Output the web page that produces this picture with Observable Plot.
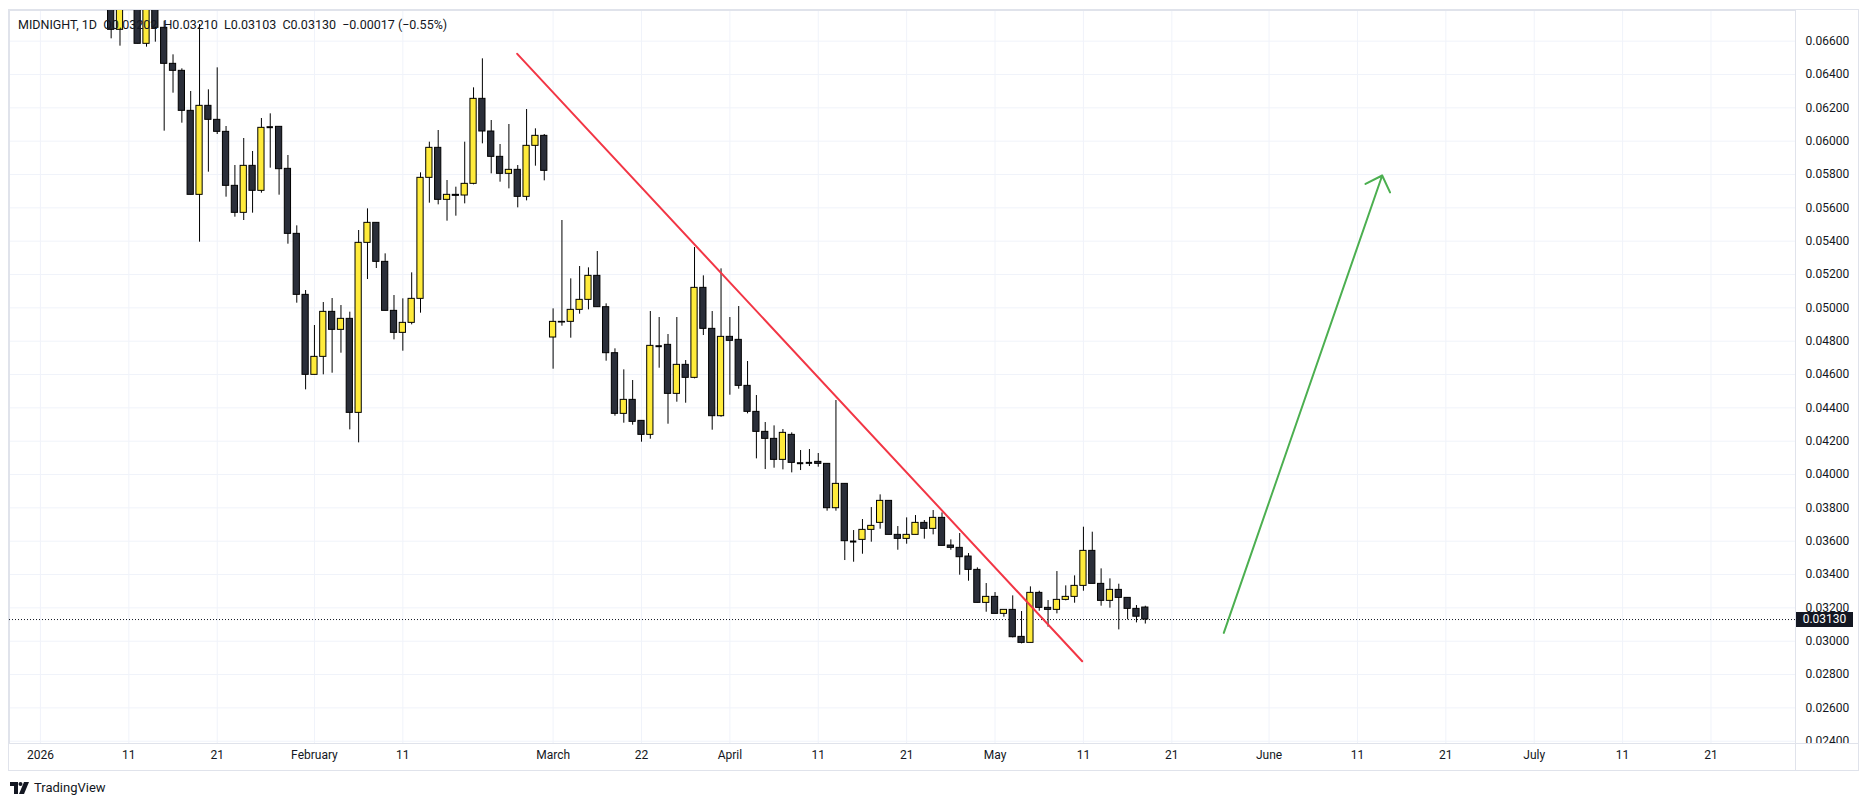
<!DOCTYPE html>
<html>
<head>
<meta charset="utf-8">
<script src="https://cdn.jsdelivr.net/npm/d3@7"></script>
<script src="https://cdn.jsdelivr.net/npm/@observablehq/plot@0.6"></script>
<style>
  html, body { margin: 0; padding: 0; background: #ffffff; }
  #wrap { position: relative; width: 1869px; height: 806px; overflow: hidden;
          font-family: Roboto, "Liberation Sans", sans-serif; color: #131722; }
  #chart { position: absolute; left: 0; top: 0; }
  #outer { position: absolute; left: 8px; top: 9px; width: 1851px; height: 762px;
           border: 1px solid #e0e3eb; box-sizing: border-box; pointer-events: none; }
  #axiscorner { position: absolute; left: 1795px; top: 743px; width: 63px; height: 27px;
           background: #ffffff; border-top: 1px solid #e0e3eb; border-left: 1px solid #e0e3eb; box-sizing: border-box; }
  #legend { position: absolute; left: 18px; top: 17px; font-size: 12.5px; color: #131722; white-space: pre; }
  #price { position: absolute; left: 1796px; width: 57px; height: 15px; line-height: 15px;
           background: #131722; color: #ffffff; font-size: 12px; text-align: center; }
  #logo { position: absolute; left: 10px; top: 780px; display: flex; align-items: center; gap: 4px;
          font-size: 13px; color: #131722; }
</style>
</head>
<body>
<div id="wrap">
  <div id="chart"></div>
  <div id="outer"></div>
  <div id="axiscorner"></div>
  <div id="legend"></div>
  <div id="price"></div>
  <div id="logo">
    <svg width="20" height="12" viewBox="0 0 20 12">
      <path d="M0 0h8v12h-4v-8h-4z" fill="#131722"/>
      <circle cx="10.5" cy="2" r="2" fill="#131722"/>
      <path d="M14 0h5l-5 12h-5z" fill="#131722"/>
    </svg>
    <span>TradingView</span>
  </div>
</div>
<script>
// ---- data ----
const symbol = "MIDNIGHT";
const interval = "1D";
const lastChange = -0.00017;   // as shown in the legend
const lastChangePct = -0.55;   // as shown in the legend
const firstBar = 8; // bar index of the first candle (index 0 = 1 Jan 2026)

const opens = [
  0.0690, 0.06668, 0.0700, 0.0692, 0.06584, 0.0685, 0.0668, 0.06464, 0.06422, 0.06182,
  0.05678, 0.06212, 0.06128, 0.06056, 0.05732, 0.0557, 0.05852, 0.05702, 0.0608, 0.06086,
  0.05834, 0.05444, 0.05078, 0.04598, 0.04706, 0.04976, 0.04868, 0.04934, 0.0437, 0.0539,
  0.0551, 0.05276, 0.04982, 0.0485, 0.0491, 0.05054, 0.0578, 0.0596, 0.05648, 0.05678,
  0.05674, 0.05744, 0.06254, 0.06058, 0.05906, 0.05804, 0.05828, 0.05666, 0.05972, 0.06032,
  0.04822, 0.04916, 0.04916, 0.04988, 0.05048, 0.05192, 0.05004, 0.04728, 0.04364, 0.04448,
  0.04322, 0.04238, 0.04772, 0.04778, 0.04484, 0.04658, 0.0458, 0.0512, 0.04874, 0.0435,
  0.04826, 0.04808, 0.04532, 0.04376, 0.04256, 0.04214, 0.04088, 0.04238, 0.0407, 0.04074,
  0.04076, 0.04064, 0.03798, 0.03944, 0.036, 0.03608, 0.03668, 0.0371, 0.03842, 0.03638,
  0.03614, 0.03638, 0.0371, 0.03674, 0.0374, 0.03574, 0.0356, 0.03508, 0.03428, 0.0323,
  0.03266, 0.03164, 0.03188, 0.03026, 0.0299, 0.0329, 0.032, 0.03188, 0.03248, 0.03266,
  0.03332, 0.03542, 0.03344, 0.03242, 0.03308, 0.0326, 0.03194, 0.03202
];
const highs = [
  0.0700, 0.0695, 0.0715, 0.0700, 0.0690, 0.0690, 0.0672, 0.06518, 0.06434, 0.06298,
  0.0670, 0.06308, 0.0644, 0.06088, 0.05854, 0.06016, 0.05938, 0.06136, 0.06164, 0.06086,
  0.05914, 0.05492, 0.05104, 0.04894, 0.05032, 0.05056, 0.05014, 0.04974, 0.05464, 0.05594,
  0.0551, 0.05324, 0.05074, 0.05054, 0.0521, 0.0581, 0.05994, 0.06064, 0.05764, 0.05724,
  0.05994, 0.0632, 0.06494, 0.06124, 0.0598, 0.061, 0.05854, 0.0619, 0.06074, 0.0604,
  0.04994, 0.05524, 0.05174, 0.05248, 0.0524, 0.05338, 0.05024, 0.04754, 0.04628, 0.04564,
  0.04322, 0.04978, 0.04942, 0.0484, 0.04942, 0.04684, 0.05362, 0.05192, 0.04978, 0.05234,
  0.04942, 0.05008, 0.04678, 0.04474, 0.04312, 0.04292, 0.0427, 0.0425, 0.04144, 0.0415,
  0.04126, 0.04064, 0.04444, 0.03944, 0.03664, 0.0373, 0.03802, 0.03878, 0.03842, 0.03688,
  0.0374, 0.03754, 0.03724, 0.03784, 0.0377, 0.03608, 0.03646, 0.03526, 0.0344, 0.03346,
  0.03292, 0.03188, 0.03272, 0.03178, 0.03326, 0.0330, 0.03244, 0.03418, 0.03332, 0.03392,
  0.03684, 0.03654, 0.03434, 0.03374, 0.03342, 0.0326, 0.03214, 0.03210
];
const lows = [
  0.06614, 0.0657, 0.0692, 0.06584, 0.06564, 0.06594, 0.0606, 0.06288, 0.06108, 0.05678,
  0.05394, 0.05814, 0.0604, 0.05664, 0.05544, 0.05524, 0.05568, 0.05688, 0.05838, 0.05676,
  0.05382, 0.05028, 0.04508, 0.04598, 0.04598, 0.04608, 0.04728, 0.04268, 0.0419, 0.0517,
  0.05236, 0.04982, 0.04808, 0.0474, 0.04898, 0.04968, 0.05628, 0.05618, 0.0552, 0.0555,
  0.05624, 0.05738, 0.05984, 0.05804, 0.05754, 0.05714, 0.056, 0.05642, 0.0585, 0.05762,
  0.04632, 0.0489, 0.04818, 0.04962, 0.04988, 0.05004, 0.0468, 0.0435, 0.04308, 0.04296,
  0.04194, 0.04212, 0.04638, 0.04302, 0.04434, 0.04428, 0.04574, 0.04834, 0.04266, 0.04344,
  0.04476, 0.04512, 0.04364, 0.04094, 0.0403, 0.04038, 0.04028, 0.0401, 0.04024, 0.04048,
  0.04044, 0.0378, 0.0378, 0.03484, 0.03474, 0.03522, 0.03594, 0.03672, 0.03638, 0.03546,
  0.03582, 0.03638, 0.03612, 0.03638, 0.03572, 0.03546, 0.03396, 0.0336, 0.0323, 0.03174,
  0.03164, 0.03144, 0.0302, 0.02984, 0.0299, 0.0318, 0.03084, 0.03164, 0.03242, 0.03228,
  0.0330, 0.03344, 0.0321, 0.03198, 0.03068, 0.03128, 0.0311, 0.03103
];
const closes = [
  0.06668, 0.0688, 0.0708, 0.06584, 0.0685, 0.0668, 0.06464, 0.06422, 0.06182, 0.05678,
  0.06212, 0.06128, 0.06056, 0.05732, 0.0557, 0.05852, 0.05702, 0.0608, 0.06084, 0.05832,
  0.05444, 0.05078, 0.04598, 0.04706, 0.04976, 0.04868, 0.04934, 0.0437, 0.0539, 0.0551,
  0.05276, 0.04982, 0.0485, 0.0491, 0.05054, 0.0578, 0.0596, 0.05648, 0.05678, 0.05672,
  0.05744, 0.06254, 0.06058, 0.05906, 0.05804, 0.05828, 0.05666, 0.05972, 0.06032, 0.05822,
  0.04916, 0.04912, 0.04988, 0.05048, 0.05192, 0.05004, 0.04728, 0.04364, 0.04448, 0.04316,
  0.04238, 0.04772, 0.0477, 0.04484, 0.04658, 0.0458, 0.0512, 0.04874, 0.0435, 0.04826,
  0.04802, 0.04532, 0.04376, 0.04256, 0.04214, 0.04088, 0.0425, 0.0407, 0.04068, 0.0407,
  0.04064, 0.03798, 0.03944, 0.036, 0.03598, 0.03668, 0.03692, 0.03842, 0.03638, 0.03614,
  0.03638, 0.0371, 0.03674, 0.0374, 0.03572, 0.0356, 0.03504, 0.03428, 0.0323, 0.03266,
  0.03164, 0.03188, 0.03024, 0.0299, 0.0329, 0.032, 0.03188, 0.03248, 0.03266, 0.03332,
  0.03542, 0.03344, 0.03242, 0.03308, 0.0326, 0.03194, 0.03147, 0.03130
];

// time axis: bar index and label
const tickBars = [0, 10, 20, 31, 41, 58, 68, 78, 88, 98, 108, 118, 128, 139, 149, 159, 169, 179, 189];
const tickLabels = ["2026", "11", "21", "February", "11", "March", "22", "April", "11", "21", "May",
                    "11", "21", "June", "11", "21", "July", "11", "21"];
// price axis ticks
const priceTicks = [0.024, 0.026, 0.028, 0.030, 0.032, 0.034, 0.036, 0.038, 0.040, 0.042, 0.044,
                    0.046, 0.048, 0.050, 0.052, 0.054, 0.056, 0.058, 0.060, 0.062, 0.064, 0.066];

// drawings
const trendBars = [53.94, 117.86];
const trendPrices = [0.06524, 0.0288];
const arrowBars = [133.88, 151.8];
const arrowPrices = [0.0305, 0.05794];

// ---- build ----
const bars = opens.map((o, k) => ({ i: firstBar + k, open: o, high: highs[k], low: lows[k], close: closes[k] }));
const isDoji = d => Math.abs(d.close - d.open) < 0.00004;
const upBars = bars.filter(d => !isDoji(d) && d.close >= d.open);
const downBars = bars.filter(d => !isDoji(d) && d.close < d.open);
const dojiBars = bars.filter(isDoji);
const last = bars[bars.length - 1];
const trend = trendBars.map((b, k) => ({ i: b, p: trendPrices[k] }));
const arrow = [{ x1: arrowBars[0], y1: arrowPrices[0], x2: arrowBars[1], y2: arrowPrices[1] }];

const YELLOW = "#ffeb3b", DARK = "#2a2e39", GRID = "#f0f3fa";
const fmt = d3.format(".5f");

const bodyOpts = {
  x1: d => d.i - 0.5, x2: d => d.i + 0.5, insetLeft: 1.3, insetRight: 1.3,
  y1: "open", y2: "close", stroke: "#000000", strokeWidth: 1, clip: true
};

const chart = Plot.plot({
  width: 1869,
  height: 772,
  marginLeft: 9,
  marginRight: 74,
  marginTop: 10,
  marginBottom: 29,
  x: { type: "linear", domain: [-3.5, 198.56], label: null },
  y: { domain: [0.023863, 0.06784], label: null },
  style: { fontFamily: "Roboto, 'Liberation Sans', sans-serif", fontSize: "12px", color: "#131722", background: "transparent", overflow: "visible" },
  marks: [
    Plot.gridY(priceTicks, { stroke: GRID, strokeOpacity: 1 }),
    Plot.gridX(tickBars, { stroke: GRID, strokeOpacity: 1 }),
    Plot.frame({ stroke: "#e0e3eb" }),
    Plot.axisY(priceTicks, { anchor: "right", tickSize: 0, tickPadding: 10, tickFormat: fmt, label: null, fill: "#131722", fontSize: 12 }),
    Plot.axisX(tickBars, { anchor: "bottom", tickSize: 0, tickPadding: 7, label: null, fill: "#131722", fontSize: 12,
      tickFormat: d => tickLabels[tickBars.indexOf(d)] }),
    Plot.ruleY([last.close], { stroke: "#131722", strokeWidth: 1, strokeDasharray: "1,2" }),
    Plot.ruleX(bars, { x: "i", y1: "low", y2: "high", stroke: "#000000", strokeWidth: 1, clip: true }),
    Plot.rect(upBars, { ...bodyOpts, fill: YELLOW }),
    Plot.rect(downBars, { ...bodyOpts, fill: DARK }),
    Plot.ruleY(dojiBars, { y: "close", x1: d => d.i - 0.36, x2: d => d.i + 0.36, stroke: "#000000", strokeWidth: 2, clip: true }),
    Plot.line(trend, { x: "i", y: "p", stroke: "#f23645", strokeWidth: 2 }),
    Plot.arrow(arrow, { x1: "x1", y1: "y1", x2: "x2", y2: "y2", stroke: "#4caf50", strokeWidth: 2, headLength: 14, headAngle: 88 })
  ]
});
document.getElementById("chart").appendChild(chart);

// legend
const sign = v => (v < 0 ? "\u2212" : "+");
document.getElementById("legend").textContent =
  `${symbol}, ${interval}  O${fmt(last.open)}  H${fmt(last.high)}  L${fmt(last.low)}  C${fmt(last.close)}  ` +
  `${sign(lastChange)}${fmt(Math.abs(lastChange))} (${sign(lastChangePct)}${Math.abs(lastChangePct).toFixed(2)}%)`;

// last price label on the price axis
const py = chart.scale("y").apply(last.close);
const priceEl = document.getElementById("price");
priceEl.textContent = fmt(last.close);
priceEl.style.top = (py - 7.5) + "px";
</script>
</body>
</html>
